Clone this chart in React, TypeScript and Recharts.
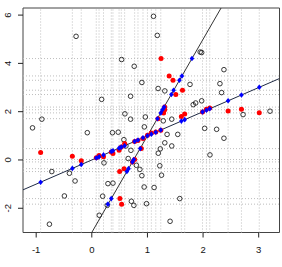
import React from 'react';
import {
  ComposedChart,
  Scatter,
  XAxis,
  YAxis,
  ReferenceLine,
  ReferenceArea,
} from 'recharts';

// observed points, shallow group (fit y on x -> vertical guides)
const redAX = [-0.92, -0.35, -0.19, 0.08, 0.13, 0.21, 0.35, 0.38, 0.49, 0.53, 0.59, 0.77, 0.83, 0.92, 1.0, 1.07, 1.15, 1.24, 1.61, 1.67, 1.99, 2.06, 2.12, 2.45, 2.69, 3.01];
const redAY = [0.31, 0.15, -0.03, 0.09, 0.19, 0.13, 0.33, 0.27, 0.4, 0.54, 0.68, 0.77, 0.81, 0.89, 1.02, 1.12, 1.16, 1.23, 1.8, 1.9, 1.99, 2.1, 2.15, 2.03, 2.1, 1.96];
const blueAY = [-0.92, -0.35, -0.19, 0.08, 0.13, 0.21, 0.35, 0.38, 0.49, 0.53, 0.59, 0.77, 0.83, 0.92, 1.0, 1.07, 1.15, 1.24, 1.61, 1.67, 1.99, 2.06, 2.12, 2.45, 2.69, 3.01];

// observed points, steep group (fit x on y -> horizontal guides)
const redBX = [0.505, 0.536, 0.5, 0.58, 0.73, 0.77, 0.89, 1.19, 1.29, 1.31, 1.31, 1.51, 1.63, 1.46, 1.39, 1.245];
const redBY = [-1.6, -1.83, -0.48, -0.36, -0.08, 0.02, 0.47, 1.71, 1.95, 2.08, 2.19, 2.71, 2.89, 3.3, 3.48, 4.2];
const blueBX = [0.35, 0.29, 0.63, 0.66, 0.73, 0.755, 0.87, 1.18, 1.24, 1.27, 1.3, 1.43, 1.47, 1.575, 1.62, 1.8];

// background sample (open circles)
const otherX = [-0.283, 1.109, 1.177, 0.536, 0.762, 1.948, 1.975, 2.375, 0.177, 0.697, 0.9, 1.192, 1.312, 1.765, 2.303, 2.333, 1.823, 1.867, 1.975, 0.595, 0.697, 0.962, -0.898, -1.066, -0.081, 0.371, 0.475, 1.285, 1.437, 2.719, 3.203, 2.029, 2.244, 0.944, 1.353, 1.545, 2.375, 0.577, 0.613, 0.703, 1.312, 1.437, 1.231, 1.195, 2.124, 0.219, 0.654, 0.801, 1.222, 0.864, 0.9, 1.253, -0.719, -0.403, -0.301, -0.493, -0.762, 0.29, 0.38, 0.195, 0.278, 0.134, 0.711, 0.756, 0.941, 1.12, 1.581, 0.984, 1.407];
const otherY = [5.12, 5.95, 5.16, 4.16, 3.88, 4.47, 4.45, 3.74, 2.51, 2.64, 3.21, 2.96, 2.86, 3.13, 3.16, 2.79, 2.29, 2.36, 2.45, 1.91, 1.69, 1.78, 1.69, 1.33, 1.13, 1.13, 1.15, 1.62, 1.69, 1.88, 2.02, 1.31, 1.27, 1.37, 1.06, 1.06, 0.9, 0.84, 0.58, 0.4, 0.71, 0.58, 0.46, 0.28, 0.21, -0.12, 0.06, -0.22, -0.24, -0.39, -0.65, -0.63, -0.48, -0.55, -0.87, -1.49, -2.66, -0.98, -0.96, -1.5, -1.88, -2.29, -1.71, -1.88, -1.12, -1.14, -1.6, -1.81, -2.54];

// fitted lines: intercept, slope
const lineShallow = { a: 0, b: 1 };
const lineSteep = { a: -3, b: 4 };

const xTicks = [-1, 0, 1, 2, 3];
const yTicks = [-2, 0, 2, 4, 6];

const xDomain: [number, number] = [-1.237, 3.374];
const yDomain: [number, number] = [-3.004, 6.294];

const zip = (xs: number[], ys: number[]) => xs.map((x, i) => ({ x, y: ys[i] }));

const others = zip(otherX, otherY);
const reds = [...zip(redAX, redAY), ...zip(redBX, redBY)];
const blues = [...zip(redAX, blueAY), ...zip(blueBX, redBY)];

const shallowSeg = [
  { x: xDomain[0], y: lineShallow.a + lineShallow.b * xDomain[0] },
  { x: xDomain[1], y: lineShallow.a + lineShallow.b * xDomain[1] },
];
const steepSeg = [
  { x: (yDomain[0] - lineSteep.a) / lineSteep.b, y: yDomain[0] },
  { x: (yDomain[1] - lineSteep.a) / lineSteep.b, y: yDomain[1] },
];

const FONT = '"Liberation Sans", Arial, sans-serif';

const OpenCircle = (p: any) => (
  <circle cx={p.cx} cy={p.cy} r={2.3} fill="none" stroke="#222" strokeWidth={0.9} />
);
const RedDot = (p: any) => <circle cx={p.cx} cy={p.cy} r={2.5} fill="#ff0000" />;
const BlueDiamond = (p: any) => (
  <path
    d={`M${p.cx},${p.cy - 2.8}L${p.cx + 2.3},${p.cy}L${p.cx},${p.cy + 2.8}L${p.cx - 2.3},${p.cy}Z`}
    fill="#0000ff"
  />
);
const NoDot = () => <g />;

const XTick = (p: any) => (
  <text x={p.x} y={p.y} dy={15.5} textAnchor="middle" fontSize={9.5} fontFamily={FONT} fill="#111">
    {p.payload.value}
  </text>
);
const YTick = (p: any) => {
  const cx = p.x - 10.5;
  return (
    <text
      x={cx}
      y={p.y}
      dy={3.4}
      textAnchor="middle"
      fontSize={9.5}
      fontFamily={FONT}
      fill="#111"
      transform={`rotate(-90, ${cx}, ${p.y})`}
    >
      {p.payload.value}
    </text>
  );
};

export default function App() {
  return (
    <div style={{ position: 'absolute', left: 0, top: 0, background: '#fff' }}>
      <ComposedChart width={282} height={267} margin={{ top: 8, right: 2.5, bottom: 0, left: 0 }}>
        <XAxis
          type="number"
          dataKey="x"
          domain={xDomain}
          allowDataOverflow
          ticks={xTicks}
          tick={XTick}
          tickSize={5}
          tickMargin={0}
          tickLine={{ stroke: '#222' }}
          axisLine={false}
          height={34.5}
        />
        <YAxis
          type="number"
          dataKey="y"
          domain={yDomain}
          allowDataOverflow
          ticks={yTicks}
          tick={YTick}
          tickSize={5}
          tickMargin={0}
          tickLine={{ stroke: '#222' }}
          axisLine={false}
          width={23}
        />
        {redAX.map((v, i) => (
          <ReferenceLine key={'v' + i} x={v} stroke="#bdbdbd" strokeDasharray="1 2" />
        ))}
        {redBY.map((v, i) => (
          <ReferenceLine key={'h' + i} y={v} stroke="#bdbdbd" strokeDasharray="1 2" />
        ))}
        <Scatter data={others} shape={OpenCircle} isAnimationActive={false} />
        <Scatter data={shallowSeg} line={{ stroke: '#1f2a44', strokeWidth: 1 }} shape={NoDot} isAnimationActive={false} />
        <Scatter data={steepSeg} line={{ stroke: '#333', strokeWidth: 1 }} shape={NoDot} isAnimationActive={false} />
        <Scatter data={reds} shape={RedDot} isAnimationActive={false} />
        <Scatter data={blues} shape={BlueDiamond} isAnimationActive={false} />
        <ReferenceArea
          x1={xDomain[0]}
          x2={xDomain[1]}
          y1={yDomain[0]}
          y2={yDomain[1]}
          fill="none"
          fillOpacity={0}
          stroke="#444"
          strokeWidth={1}
        />
      </ComposedChart>
    </div>
  );
}
